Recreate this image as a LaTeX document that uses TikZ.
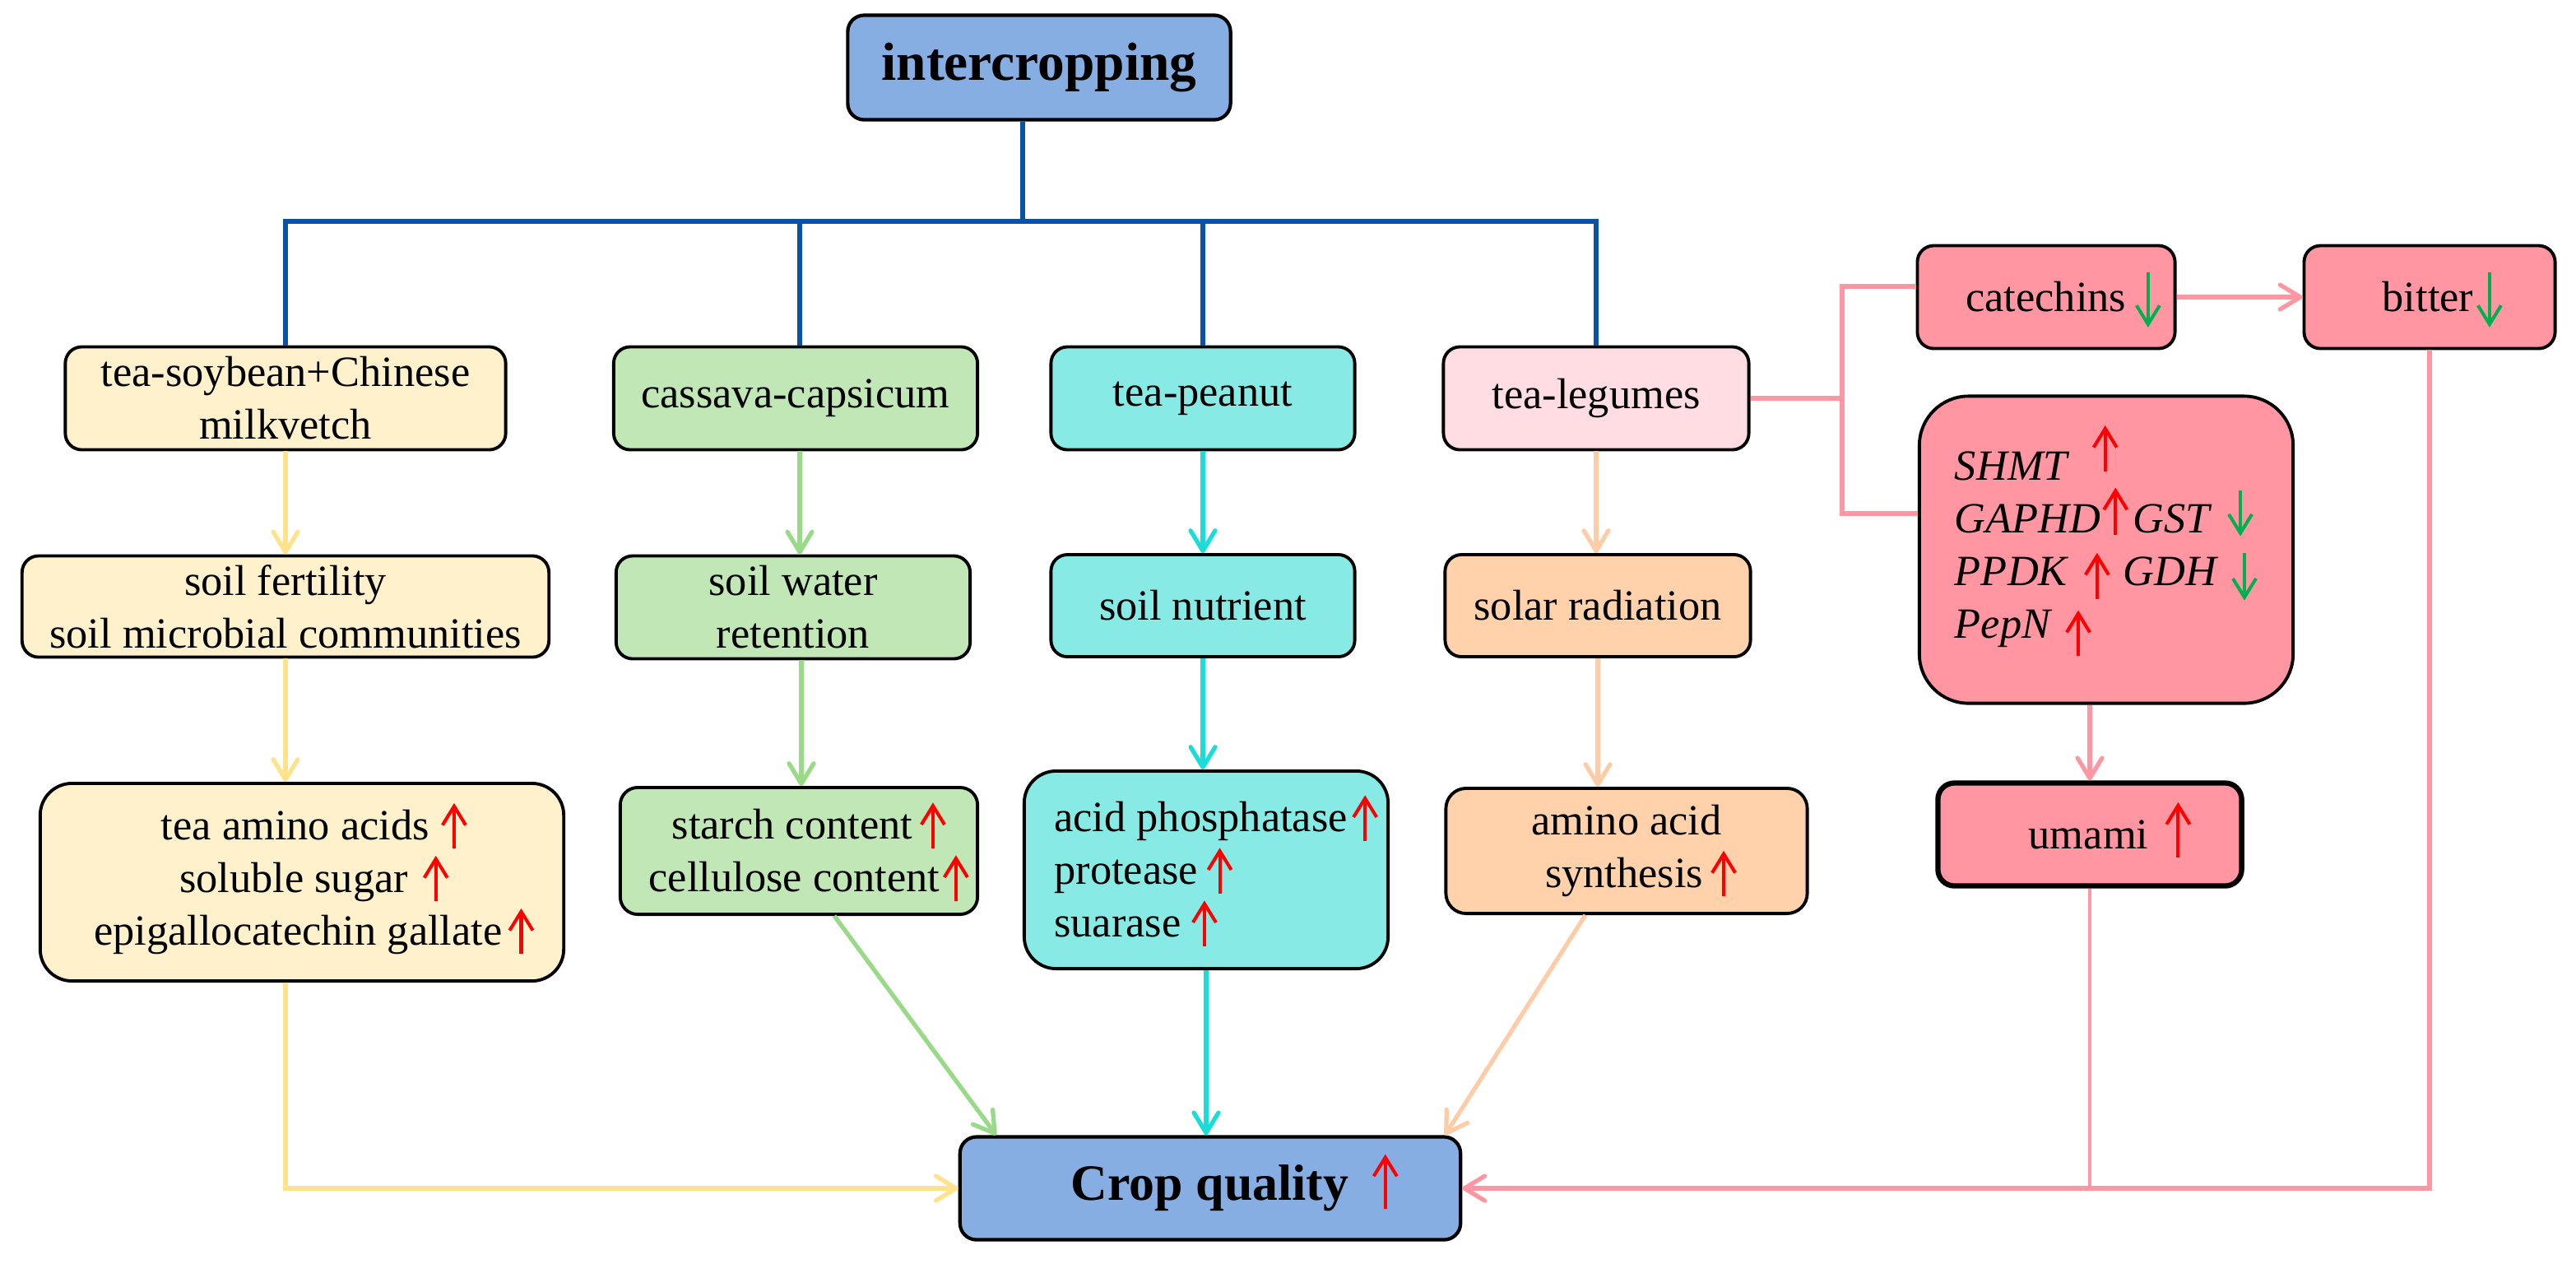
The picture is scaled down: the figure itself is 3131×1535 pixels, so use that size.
\documentclass[tikz,border=0pt]{standalone}
\usepackage{fontspec}
\setmainfont{Liberation Serif}
\usetikzlibrary{arrows.meta}

\definecolor{bluefill}{RGB}{134,174,227}
\definecolor{bluelin}{RGB}{10,82,166}
\definecolor{yfill}{RGB}{255,241,204}
\definecolor{ylin}{RGB}{255,226,140}
\definecolor{gfill}{RGB}{192,231,181}
\definecolor{glin}{RGB}{152,218,136}
\definecolor{cfill}{RGB}{135,234,228}
\definecolor{clin}{RGB}{27,220,214}
\definecolor{lpfill}{RGB}{255,221,226}
\definecolor{pfill}{RGB}{255,210,172}
\definecolor{plin}{RGB}{255,204,168}
\definecolor{kfill}{RGB}{255,150,162}
\definecolor{klin}{RGB}{255,150,162}
\definecolor{arrred}{RGB}{255,0,0}
\definecolor{arrgreen}{RGB}{0,176,80}

\newcommand{\arrowglyph}[3]{\smash{\tikz[baseline=0pt]\draw[line width=1.15pt,#1,-{Straight Barb[length=6.5pt,width=8pt]}] (0pt,#2) -- (0pt,#3);}}
\newcommand{\redup}{\arrowglyph{arrred}{-3pt}{12.7pt}}
\newcommand{\bigredup}{\arrowglyph{arrred}{-3pt}{16pt}}
\newcommand{\greendn}{\arrowglyph{arrgreen}{13.7pt}{-5.4pt}}

\begin{document}
\begin{tikzpicture}[x=0.01cm, y=-0.01cm,
  box/.style={draw=black, line width=1.1pt, rounded corners=5.7pt, inner sep=0pt,
    align=center, font=\fontsize{14.9}{18.2}\selectfont},
  tip/.style={-{Straight Barb[length=7pt,width=8.5pt,round]}},
  bline/.style={draw=bluelin, line width=1.5pt},
  yconn/.style={draw=ylin, line width=1.5pt, tip},
  gconn/.style={draw=glin, line width=1.5pt, tip},
  cconn/.style={draw=clin, line width=1.5pt, tip},
  pconn/.style={draw=plin, line width=1.5pt, tip},
  kline/.style={draw=klin, line width=1.5pt},
  kconn/.style={draw=klin, line width=1.5pt, tip}]
\useasboundingbox (0,0) rectangle (3131,1535);

% top
\node[box, fill=bluefill, line width=1.2pt, minimum width=4.65cm, minimum height=1.27cm,
  font=\fontsize{18.6}{22}\selectfont\bfseries] (inter) at (1263,82) {intercropping};

% row 1
\node[box, fill=yfill, minimum width=5.35cm, minimum height=1.25cm] (a1) at (347,484) {tea-soybean+Chinese\\milkvetch};
\node[box, fill=gfill, minimum width=4.42cm, minimum height=1.25cm] (b1) at (967,484) {cassava-capsicum};
\node[box, fill=cfill, minimum width=3.69cm, minimum height=1.25cm] (c1) at (1462,484) {tea-peanut};
\node[box, fill=lpfill, minimum width=3.71cm, minimum height=1.25cm] (d1) at (1940,484) {tea-legumes};

% row 2
\node[box, fill=yfill, minimum width=6.40cm, minimum height=1.23cm] (a2) at (347,737) {soil fertility\\soil microbial communities};
\node[box, fill=gfill, minimum width=4.30cm, minimum height=1.25cm] (b2) at (964,738) {soil water\\retention};
\node[box, fill=cfill, minimum width=3.69cm, minimum height=1.24cm] (c2) at (1462,736) {soil nutrient};
\node[box, fill=pfill, minimum width=3.71cm, minimum height=1.24cm] (d2) at (1942,736) {solar radiation};

% row 3
\node[box, fill=yfill, rounded corners=11pt, minimum width=6.36cm, minimum height=2.40cm] (a3) at (367,1072)
  {\hspace*{8.5pt}tea amino acids\hspace{4pt}\redup\\
   \hspace*{8.5pt}soluble sugar\hspace{5pt}\redup\\
   \hspace*{8.5pt}epigallocatechin gallate\hspace{2pt}\redup};
\node[box, fill=gfill, rounded corners=6pt, minimum width=4.34cm, minimum height=1.54cm] (b3) at (971,1034)
  {\hspace*{7pt}starch content\hspace{2.5pt}\redup\\
   \hspace*{7pt}cellulose content\hspace{1pt}\redup};
\node[box, fill=cfill, rounded corners=11pt, align=left, minimum width=4.42cm, minimum height=2.40cm] (c3) at (1466,1057)
  {\hspace*{7pt}acid phosphatase\hspace{1.5pt}\redup\\
   \hspace*{7pt}protease\hspace{3pt}\redup\\
   \hspace*{7pt}suarase\hspace{3.5pt}\redup};
\node[box, fill=pfill, rounded corners=7pt, minimum width=4.39cm, minimum height=1.52cm] (d3) at (1977,1034)
  {amino acid\\\hspace*{10pt}synthesis\hspace{2.5pt}\redup};

% right column
\node[box, fill=kfill, minimum width=3.13cm, minimum height=1.25cm] (cat) at (2487,361)
  {\hspace*{12pt}catechins\hspace{3pt}\greendn};
\node[box, fill=kfill, minimum width=3.05cm, minimum height=1.25cm] (bit) at (2953,361)
  {\hspace*{9pt}bitter\hspace{1pt}\greendn};
\node[box, fill=kfill, rounded corners=17pt, align=left, minimum width=4.54cm, minimum height=3.73cm,
  font=\fontsize{14.9}{18.2}\selectfont\itshape] (gene) at (2560,668)
  {SHMT\hspace{8.5pt}\arrowglyph{arrred}{3pt}{19pt}\\
   GAPHD\hspace{0.5pt}\arrowglyph{arrred}{-0.5pt}{15.7pt}\hspace{1.5pt}GST\hspace{6pt}\arrowglyph{arrgreen}{14.8pt}{-1.1pt}\\
   PPDK\hspace{5.7pt}\arrowglyph{arrred}{-4.5pt}{11.4pt}\hspace{4.5pt}GDH\hspace{5pt}\arrowglyph{arrgreen}{11.4pt}{-5.1pt}\\
   PepN\hspace{5pt}\arrowglyph{arrred}{-6pt}{9.7pt}};
\node[box, fill=kfill, line width=1.8pt, minimum width=3.69cm, minimum height=1.25cm] (umami) at (2540,1014)
  {\hspace*{14pt}umami\hspace{5.7pt}\bigredup};

% bottom
\node[box, fill=bluefill, line width=1.2pt, minimum width=6.08cm, minimum height=1.25cm,
  font=\fontsize{17.6}{21}\selectfont\bfseries] (crop) at (1471,1444)
  {\hspace*{17pt}Crop quality\hspace{8pt}\mdseries\bigredup};

% blue tree
\coordinate (hub) at (1243,269);
\draw[bline] (inter.south -| hub) -- (hub);
\draw[bline] (a1.north) -- (a1.north |- hub) -- (d1.north |- hub) -- (d1.north);
\draw[bline] ([xshift=0.05cm]b1.north) -- ([xshift=0.05cm]b1.north |- hub);
\draw[bline] (c1.north) -- (c1.north |- hub);

% yellow
\draw[yconn] (a1.south) -- (a2.north);
\draw[yconn] (a2.south) -- (a2.south |- a3.north);
\draw[yconn] (a2.south |- a3.south) |- (crop.west);

% green
\draw[gconn] ([xshift=0.05cm]b1.south) -- ([xshift=0.05cm]b1.south |- b2.north);
\draw[gconn] ([xshift=0.1cm]b2.south) -- ([xshift=0.1cm]b2.south |- b3.north);
\draw[gconn] ([xshift=0.43cm]b3.south) -- ([xshift=0.46cm]crop.north west);

% cyan
\draw[cconn] (c1.south) -- (c2.north);
\draw[cconn] (c2.south) -- (c2.south |- c3.north);
\draw[cconn] (c3.south) -- (c3.south |- crop.north);

% peach
\draw[pconn] (d1.south) -- (d1.south |- d2.north);
\draw[pconn] (d2.south) -- (d2.south |- d3.north);
\draw[pconn] ([xshift=-0.5cm]d3.south) -- ([xshift=-0.21cm]crop.north east);

% pink
\coordinate (brtop) at (2239,348);
\coordinate (brbot) at (2239,624);
\draw[kline] (d1.east) -- (d1.east -| brtop);
\draw[kline] (cat.west |- brtop) -- (brtop) -- (brbot) -- (gene.west |- brbot);
\draw[kconn] (cat.east) -- (bit.west);
\draw[kconn] (umami.north |- gene.south) -- (umami.north);
\draw[kconn] (bit.south) |- (crop.east);
\draw[kline, line width=1pt] (umami.south) -- (umami.south |- crop.east);
\end{tikzpicture}
\end{document}
